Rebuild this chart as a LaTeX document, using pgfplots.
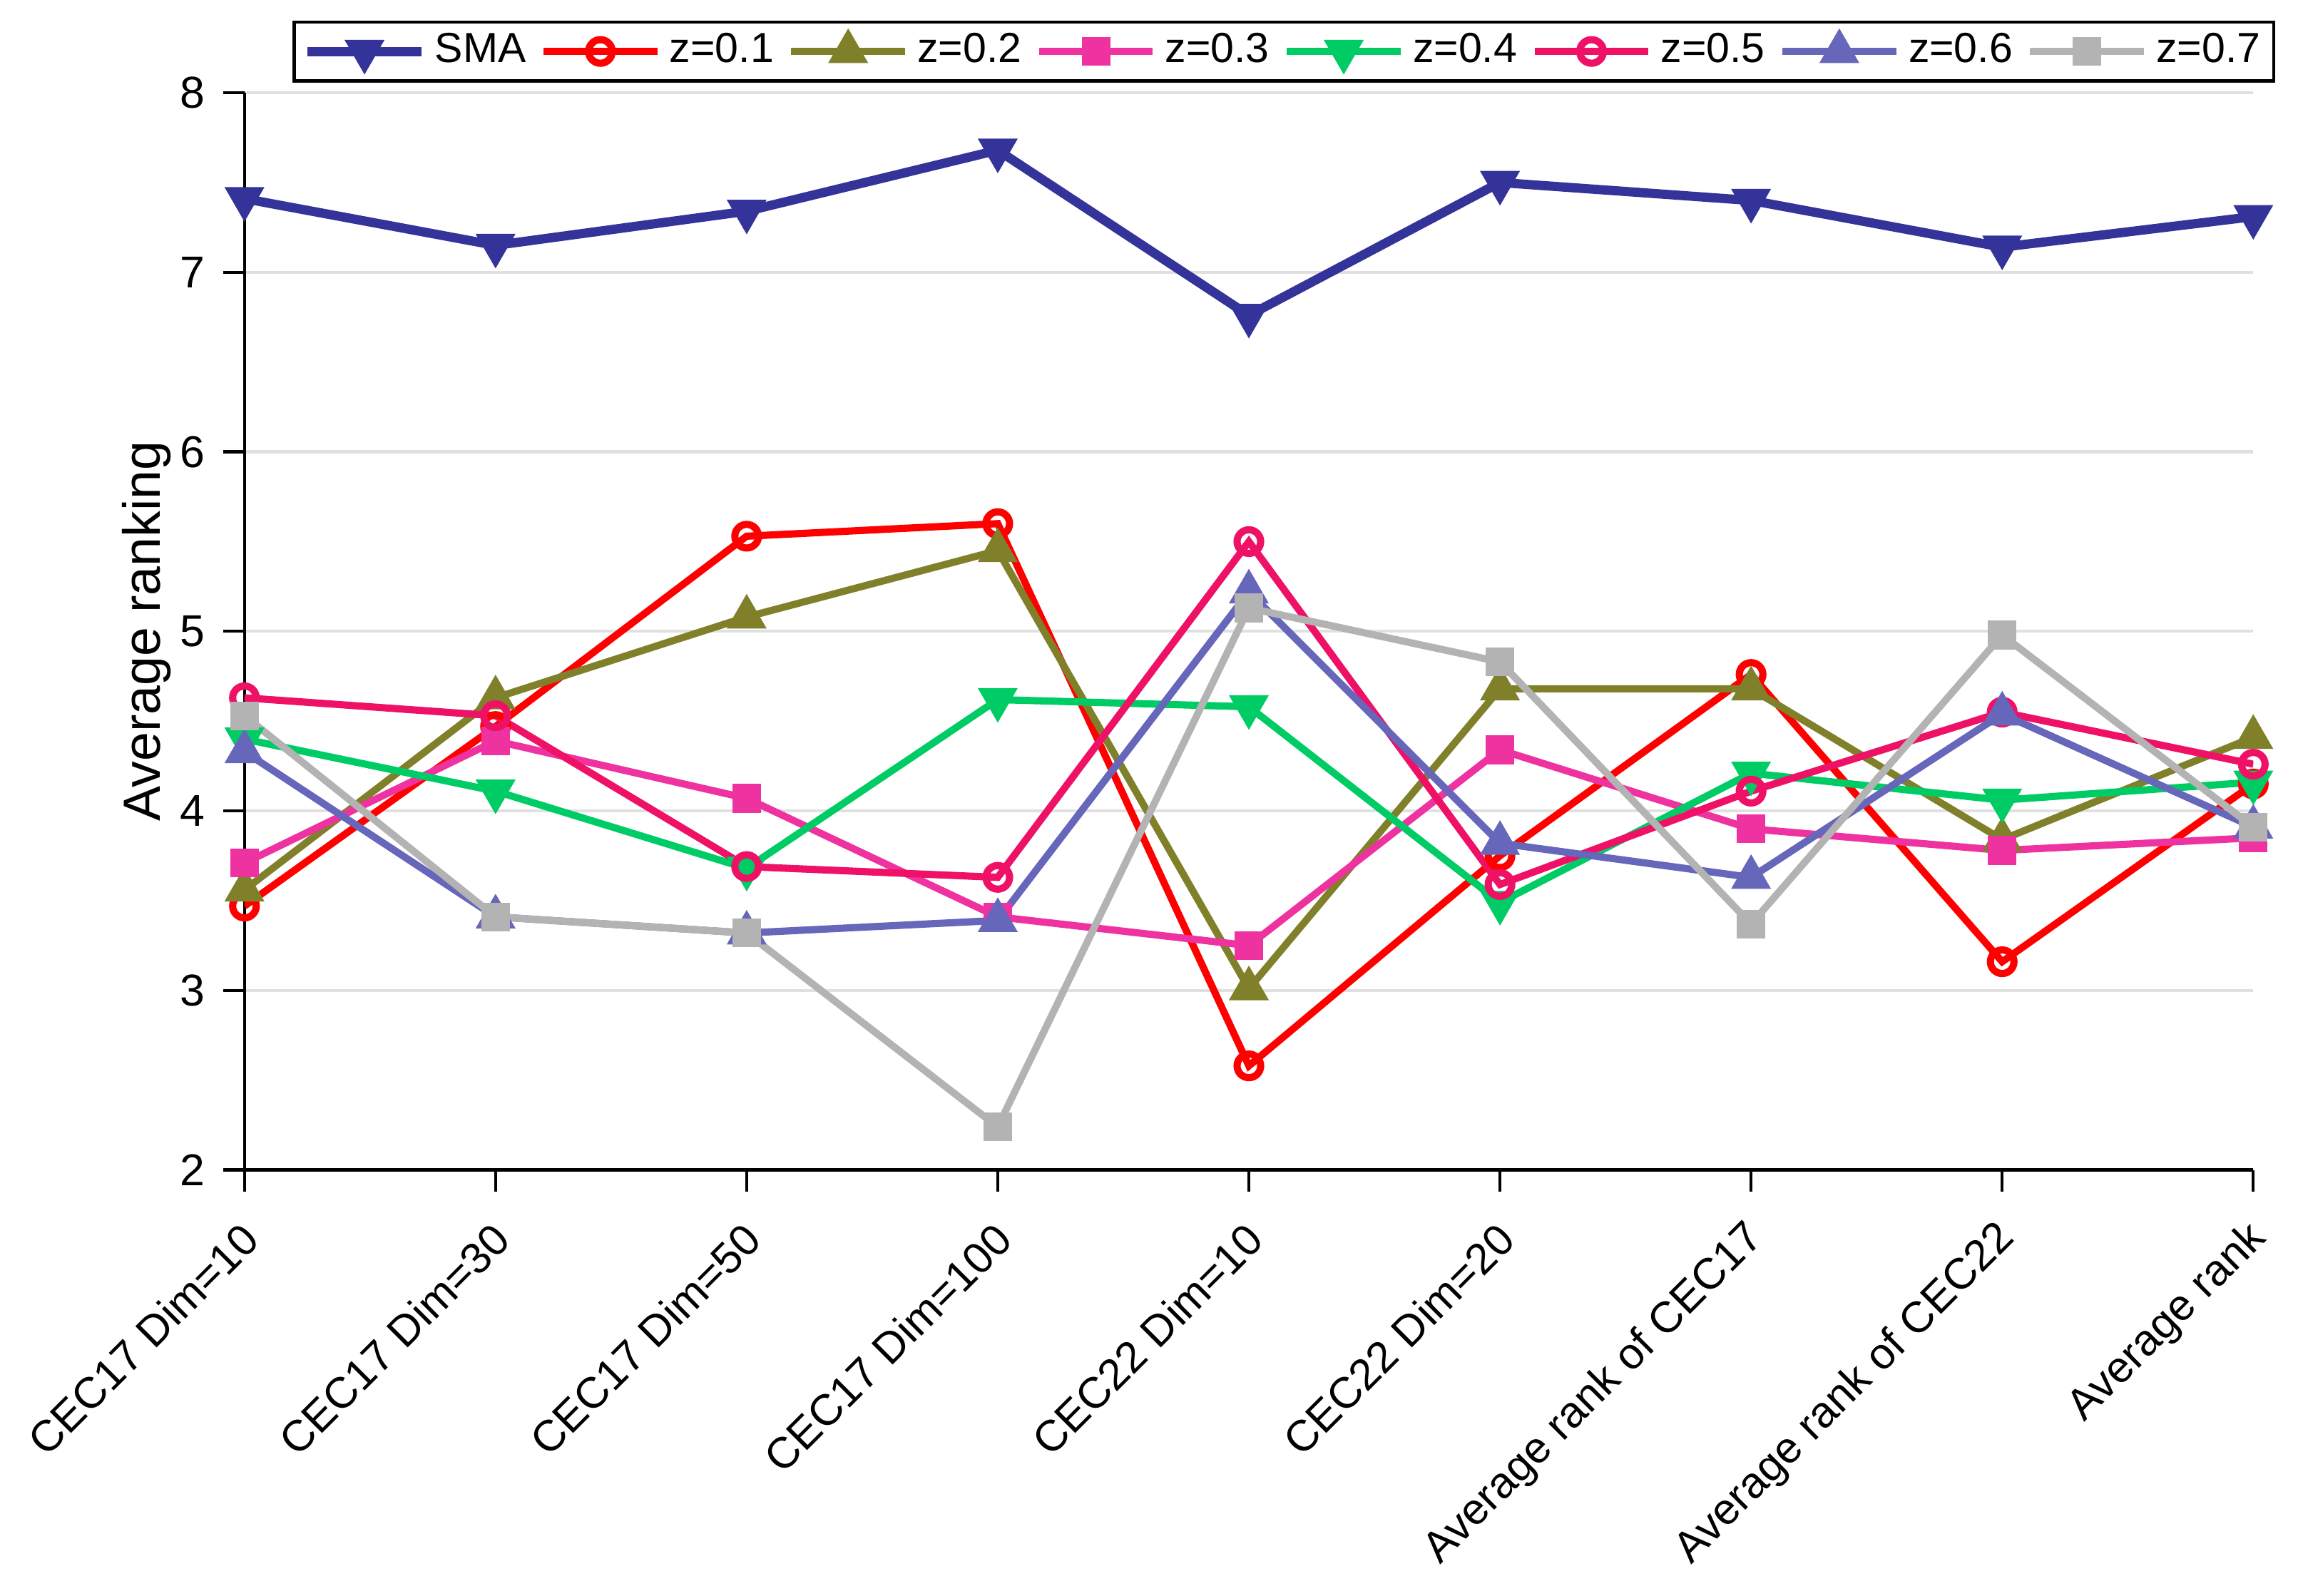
\documentclass[border=0pt]{standalone}
\usepackage{pgfplots}
\pgfplotsset{compat=1.18}
\usepackage{pgfplotstable}
\usepackage{fontspec}
\setmainfont{Liberation Sans}
\definecolor{cSMA}{RGB}{51,51,153}
\definecolor{cz1}{RGB}{255,0,0}
\definecolor{cz2}{RGB}{128,128,42}
\definecolor{cz3}{RGB}{238,51,160}
\definecolor{cz4}{RGB}{0,204,102}
\definecolor{cz5}{RGB}{238,17,102}
\definecolor{cz6}{RGB}{102,102,187}
\definecolor{cz7}{RGB}{179,179,179}
\definecolor{cgrid}{RGB}{224,224,224}
\pgfplotstableread{
x SMA z1 z2 z3 z4 z5 z6 z7
0 7.41 3.47 3.56 3.71 4.40 4.63 4.33 4.53
1 7.15 4.47 4.63 4.39 4.11 4.53 3.41 3.41
2 7.34 5.53 5.08 4.07 3.68 3.69 3.32 3.32
3 7.68 5.60 5.45 3.41 4.62 3.63 3.39 2.24
4 6.76 2.58 3.01 3.25 4.58 5.50 5.22 5.13
5 7.50 3.75 4.68 4.34 3.49 3.59 3.82 4.83
6 7.40 4.76 4.68 3.90 4.21 4.11 3.63 3.37
7 7.14 3.16 3.84 3.78 4.06 4.55 4.54 4.98
8 7.31 4.15 4.41 3.85 4.16 4.26 3.91 3.91
}\datatable
\begin{document}
\begin{tikzpicture}
\begin{axis}[
  scale only axis,
  width=137.6mm, height=73.8mm,
  xmin=0, xmax=8, ymin=2, ymax=8,
  axis x line*=bottom, axis y line*=left,
  axis line style={line width=0.6pt},
  tick align=outside,
  major tick length=1.46mm,
  tick style={line width=0.6pt, black},
  xtick={0,...,8},
  xticklabels={CEC17 Dim=10, CEC17 Dim=30, CEC17 Dim=50, CEC17 Dim=100, CEC22 Dim=10, CEC22 Dim=20, Average rank of CEC17, Average rank of CEC22, Average rank},
  xticklabel style={xshift=1.3mm, yshift=-1.9mm, rotate=45, anchor=east, font=\fontsize{8.5}{10}\selectfont},
  ytick={2,...,8},
  yticklabel style={font=\fontsize{8.7}{10}\selectfont},
  /pgf/number format/assume math mode=true,
  ymajorgrids,
  grid style={line width=0.6pt, cgrid},
  ylabel={Average ranking},
  ylabel style={font=\fontsize{10.2}{12}\selectfont},
  ylabel shift=-1.8mm,
  every axis plot/.append style={line width=1.4pt},
  legend columns=8,
  legend style={at={(0.024,1.0095)}, anchor=south west, draw=black, line width=0.6pt,
    font=\fontsize{8.2}{10}\selectfont, inner xsep=0.6mm, inner ysep=0.5mm,
    nodes={inner xsep=0.3mm, inner ysep=0.25mm},
    /tikz/every odd column/.append style={column sep=0.3mm},
    /tikz/every even column/.append style={column sep=0.65mm}},
  legend image code/.code={\draw[mark repeat=2,mark phase=2] plot coordinates {(0mm,0mm) (3.9mm,0mm) (7.8mm,0mm)};},
]
\addplot[color=cSMA, line width=1.8pt, mark=triangle*, mark options={rotate=180, solid, fill=cSMA, line width=1.2pt}, mark size=3.3pt] table[x=x,y=SMA]{\datatable};
\addlegendentry{SMA}
\addplot[color=cz1, mark=o, mark options={solid}, mark size=2.3pt] table[x=x,y=z1]{\datatable};
\addlegendentry{z=0.1}
\addplot[color=cz2, mark=triangle*, mark options={solid, fill=cz2, line width=1.2pt}, mark size=3.3pt] table[x=x,y=z2]{\datatable};
\addlegendentry{z=0.2}
\addplot[color=cz3, mark=square*, mark options={solid, fill=cz3}, mark size=2.1pt] table[x=x,y=z3]{\datatable};
\addlegendentry{z=0.3}
\addplot[color=cz4, mark=triangle*, mark options={rotate=180, solid, fill=cz4, line width=1.2pt}, mark size=3.3pt] table[x=x,y=z4]{\datatable};
\addlegendentry{z=0.4}
\addplot[color=cz5, mark=o, mark options={solid}, mark size=2.3pt] table[x=x,y=z5]{\datatable};
\addlegendentry{z=0.5}
\addplot[color=cz6, mark=triangle*, mark options={solid, fill=cz6, line width=1.2pt}, mark size=3.3pt] table[x=x,y=z6]{\datatable};
\addlegendentry{z=0.6}
\addplot[color=cz7, mark=square*, mark options={solid, fill=cz7}, mark size=2.1pt] table[x=x,y=z7]{\datatable};
\addlegendentry{z=0.7}
\end{axis}
\path (current bounding box.north) ++(0,1.4mm);
\end{tikzpicture}
\end{document}
